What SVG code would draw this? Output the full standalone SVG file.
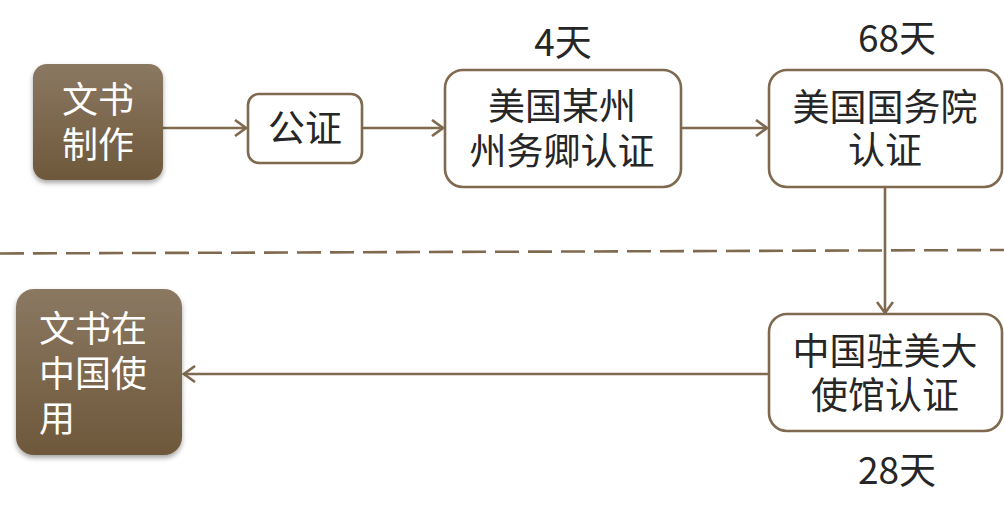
<svg xmlns="http://www.w3.org/2000/svg" width="1004" height="514" viewBox="0 0 1004 514">
<style>
.box{fill:#ffffff;stroke:#7f6a4f;stroke-width:2.6}
.dark{fill:url(#g);filter:url(#sh)}
.t{font-family:"Noto Sans CJK SC","Noto Sans",sans-serif;font-size:37px;fill:#262626}
.w{font-family:"Noto Sans CJK SC","Noto Sans",sans-serif;font-size:36px;fill:#ffffff}
.c{stroke:#7f6a4f;stroke-width:2.6;fill:none}
</style>
<defs>
<linearGradient id="g" x1="0" y1="0" x2="0" y2="1">
<stop offset="0" stop-color="#8b7862"/>
<stop offset="1" stop-color="#6e583b"/>
</linearGradient>
<filter id="sh" x="-20%" y="-20%" width="140%" height="140%">
<feDropShadow dx="0" dy="3" stdDeviation="2.5" flood-color="#000" flood-opacity="0.35"/>
</filter>
<marker id="a" markerWidth="14" markerHeight="18" refX="12" refY="9" orient="auto" markerUnits="userSpaceOnUse">
<path d="M1,1 L12,9 L1,17" fill="none" stroke="#7f6a4f" stroke-width="2.6"/>
</marker>
</defs>
<g id="connectors">
<line class="c" x1="0" y1="253.5" x2="1004" y2="250" stroke-dasharray="24 9" stroke-width="3"/>
<line class="c" x1="163" y1="128" x2="246" y2="128" marker-end="url(#a)"/>
<line class="c" x1="362" y1="128" x2="443" y2="128" marker-end="url(#a)"/>
<line class="c" x1="681" y1="128" x2="767" y2="128" marker-end="url(#a)"/>
<line class="c" x1="885" y1="187" x2="885" y2="313" marker-end="url(#a)"/>
<line class="c" x1="768" y1="374" x2="184" y2="374" marker-end="url(#a)"/>
</g>
<g id="n1">
<rect class="dark" x="33" y="64" width="130" height="116" rx="14"/>
<text class="w" text-anchor="middle"><tspan x="98" y="113">文书</tspan><tspan x="98" y="158">制作</tspan></text>
</g>
<g id="n2">
<rect class="box" x="248" y="94" width="114" height="69" rx="11"/>
<text class="t" x="305" y="142" text-anchor="middle">公证</text>
</g>
<g id="n3">
<rect class="box" x="445" y="70" width="236" height="117" rx="18"/>
<text class="t" text-anchor="middle"><tspan x="562" y="119.5">美国某州</tspan><tspan x="562" y="164.5">州务卿认证</tspan></text>
</g>
<g id="n4">
<rect class="box" x="769" y="70" width="233" height="117" rx="18"/>
<text class="t" text-anchor="middle"><tspan x="885" y="120.5">美国国务院</tspan><tspan x="885" y="164">认证</tspan></text>
</g>
<g id="n5">
<rect class="box" x="769" y="314" width="233" height="117" rx="18"/>
<text class="t" text-anchor="middle"><tspan x="885" y="365">中国驻美大</tspan><tspan x="885" y="408.5">使馆认证</tspan></text>
</g>
<g id="n6">
<rect class="dark" x="16" y="289" width="166" height="166" rx="18"/>
<text class="w"><tspan x="39" y="341.5">文书在</tspan><tspan x="39" y="386.5">中国使</tspan><tspan x="39" y="431.5">用</tspan></text>
</g>
<g id="labels">
<text class="t" x="563" y="56" text-anchor="middle">4天</text>
<text class="t" x="897" y="52" text-anchor="middle">68天</text>
<text class="t" x="897" y="484" text-anchor="middle">28天</text>
</g>
</svg>
